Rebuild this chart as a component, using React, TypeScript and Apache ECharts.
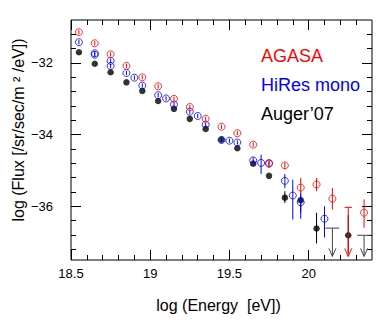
import React, { useEffect, useRef } from "react";
import * as echarts from "echarts";

// ---- data (log10 E [eV], log10 flux) ----
const agasaE = [18.55, 18.65, 18.75, 18.85, 18.95, 19.05, 19.15, 19.25, 19.35, 19.45, 19.55, 19.65, 19.75, 19.85, 19.95, 20.05, 20.15, 20.35];
const agasaY = [-31.14, -31.45, -31.76, -32.08, -32.40, -32.65, -33.00, -33.23, -33.56, -33.78, -33.96, -34.28, -34.79, -34.86, -35.48, -35.39, -35.79, -36.18];
const agasaHi = [-31.08, -31.39, -31.70, -32.02, -32.34, -32.59, -32.94, -33.17, -33.50, -33.72, -33.90, -34.22, -34.71, -34.78, -35.21, -35.21, -35.49, -35.81];
const agasaLo = [-31.20, -31.51, -31.82, -32.14, -32.46, -32.71, -33.06, -33.29, -33.62, -33.84, -34.02, -34.34, -34.93, -34.96, -35.68, -35.58, -36.09, -36.60];
const agasaLimE = [20.25];
const agasaLimY = [-36.03];

const hiresE = [18.55, 18.65, 18.65, 18.75, 18.75, 18.85, 18.90, 18.95, 19.05, 19.10, 19.15, 19.25, 19.30, 19.35, 19.45, 19.50, 19.55, 19.65, 19.70, 19.75, 19.85, 19.90, 19.95, 20.10];
const hiresY = [-31.42, -31.73, -31.77, -31.94, -32.08, -32.28, -32.41, -32.63, -32.90, -32.99, -33.16, -33.36, -33.48, -33.72, -34.15, -34.17, -34.22, -34.72, -34.79, -34.81, -35.29, -35.70, -35.89, -36.35];
const hiresHi = [-31.36, -31.67, -31.71, -31.88, -32.02, -32.22, -32.35, -32.57, -32.84, -32.93, -33.10, -33.30, -33.42, -33.66, -34.09, -34.11, -34.16, -34.63, -34.56, -34.75, -35.10, -35.26, -35.62, -36.00];
const hiresLo = [-31.48, -31.79, -31.83, -32.00, -32.14, -32.34, -32.47, -32.69, -32.96, -33.05, -33.22, -33.42, -33.54, -33.78, -34.21, -34.23, -34.28, -34.81, -35.10, -34.87, -35.49, -36.37, -36.35, -36.87];

const augerE = [18.55, 18.65, 18.75, 18.85, 18.95, 19.05, 19.15, 19.25, 19.35, 19.45, 19.55, 19.65, 19.75, 19.85, 19.95, 20.05, 20.25];
const augerY = [-31.70, -32.02, -32.26, -32.54, -32.78, -33.06, -33.28, -33.56, -33.84, -34.14, -34.38, -34.81, -35.15, -35.76, -35.83, -36.62, -36.81];
const augerErrE = [19.85, 19.95, 20.05, 20.25];
const augerErrHi = [-35.58, -35.67, -36.18, -36.25];
const augerErrLo = [-35.91, -36.18, -37.04, -37.30];
const augerLimE = [20.15, 20.35];
const augerLimY = [-36.61, -36.81];

const xMajor = [18.5, 19, 19.5, 20];
const xMinor = [18.6, 18.7, 18.8, 18.9, 19.1, 19.2, 19.3, 19.4, 19.6, 19.7, 19.8, 19.9, 20.1, 20.2, 20.3];
const yMajor = [-36, -34, -32];
const yMinor = [-37.2, -36.8, -36.4, -35.6, -35.2, -34.8, -34.4, -33.6, -33.2, -32.8, -32.4, -31.6, -31.2];

const legendNames = ["AGASA", "HiRes mono", "Auger\u201907"];
const xTitle = "log (Energy  [eV])";
const yTitle = "log (Flux [/sr/sec/m \u00b2 /eV])";
const RED = "#ff0000";
const BLUE = "#0000ff";
const BLACK = "#000000";
const LIMIT_GREY = "#444444";
const ARROW_TIP = -37.4;
const FONT = "'Liberation Sans', Arial, Helvetica, sans-serif";

function errSeries(E: number[], hi: number[], lo: number[], color: string, z: number) {
  return {
    type: "custom",
    silent: true,
    z,
    data: E.map((e, i) => [e, hi[i], lo[i]]),
    renderItem: (_p: any, api: any) => {
      const a = api.coord([api.value(0), api.value(1)]);
      const b = api.coord([api.value(0), api.value(2)]);
      return {
        type: "line",
        shape: { x1: a[0], y1: a[1], x2: b[0], y2: b[1] },
        style: { stroke: color, lineWidth: 1 },
      };
    },
  };
}

function limitSeries(E: number[], Y: number[], color: string, halfW: number, z: number) {
  return {
    type: "custom",
    silent: true,
    z,
    data: E.map((e, i) => [e, Y[i]]),
    renderItem: (_p: any, api: any) => {
      const a = api.coord([api.value(0), api.value(1)]);
      const t = api.coord([api.value(0), ARROW_TIP]);
      const st = { stroke: color, lineWidth: 1, fill: "none" };
      return {
        type: "group",
        children: [
          { type: "line", shape: { x1: a[0] - halfW, y1: a[1], x2: a[0] + halfW, y2: a[1] }, style: st },
          { type: "line", shape: { x1: a[0], y1: a[1], x2: t[0], y2: t[1] }, style: st },
          { type: "polyline", shape: { points: [[t[0] - 3.5, t[1] - 8], [t[0], t[1]], [t[0] + 3.5, t[1] - 8]] }, style: st },
        ],
      };
    },
  };
}

function scatter(E: number[], Y: number[], color: string, filled: boolean, z: number) {
  return {
    type: "scatter",
    z,
    symbol: "circle",
    symbolSize: filled ? 6.5 : 7,
    data: E.map((e, i) => [e, Y[i]]),
    itemStyle: filled
      ? { color, borderWidth: 0 }
      : { color: "rgba(0,0,0,0)", borderColor: color, borderWidth: 1 },
  };
}

export default function App() {
  const ref = useRef<HTMLDivElement>(null);
  useEffect(() => {
    if (!ref.current) return;
    const chart = echarts.init(ref.current, undefined, { renderer: "svg" });
    const baseX = { type: "value", min: 18.5, max: 20.4, axisLine: { show: false }, splitLine: { show: false } };
    const baseY = { type: "value", min: -37.5, max: -30.8, axisLine: { show: false }, splitLine: { show: false } };
    const tick = (vals: number[], len: number) => ({
      show: true, inside: true, length: len, customValues: vals, lineStyle: { color: "#000", width: 1 },
    });
    const noLabel = { show: false };
    chart.setOption({
      animation: false,
      grid: { left: 71, right: 10, top: 20, bottom: 65, show: true, borderColor: "#000", borderWidth: 1, backgroundColor: "rgba(0,0,0,0)" },
      xAxis: [
        {
          ...baseX, position: "bottom", axisTick: tick(xMajor, 10),
          axisLabel: { customValues: xMajor, margin: 7, fontSize: 13, color: "#000", fontFamily: FONT, formatter: (v: number) => String(v) },
        },
        { ...baseX, position: "bottom", axisTick: tick(xMinor, 5), axisLabel: noLabel },
        { ...baseX, position: "top", axisTick: tick(xMajor, 10), axisLabel: noLabel },
        { ...baseX, position: "top", axisTick: tick(xMinor, 5), axisLabel: noLabel },
      ],
      yAxis: [
        {
          ...baseY, position: "left", axisTick: tick(yMajor, 10),
          axisLabel: { customValues: yMajor, margin: 18, fontSize: 13, color: "#000", fontFamily: FONT, formatter: (v: number) => "\u2212" + Math.abs(v) },
        },
        { ...baseY, position: "left", axisTick: tick(yMinor, 5), axisLabel: noLabel },
        { ...baseY, position: "right", axisTick: tick(yMajor, 10), axisLabel: noLabel },
        { ...baseY, position: "right", axisTick: tick(yMinor, 5), axisLabel: noLabel },
      ],
      series: [
        errSeries(augerErrE, augerErrHi, augerErrLo, BLACK, 2),
        limitSeries(augerLimE, augerLimY, LIMIT_GREY, 7, 2),
        scatter(augerE, augerY, BLACK, true, 3),
        errSeries(hiresE, hiresHi, hiresLo, BLUE, 4),
        scatter(hiresE, hiresY, BLUE, false, 5),
        errSeries(agasaE, agasaHi, agasaLo, RED, 6),
        limitSeries(agasaLimE, agasaLimY, RED, 3.7, 6),
        scatter(agasaE, agasaY, RED, false, 7),
      ],
      graphic: [
        { type: "text", x: 261, y: 56, style: { text: legendNames[0], fill: RED, fontSize: 18, fontFamily: FONT, verticalAlign: "middle" } },
        { type: "text", x: 261, y: 85, style: { text: legendNames[1], fill: BLUE, fontSize: 18, fontFamily: FONT, verticalAlign: "middle" } },
        { type: "text", x: 261, y: 114, style: { text: legendNames[2], fill: BLACK, fontSize: 18, fontFamily: FONT, verticalAlign: "middle" } },
        {
          type: "text", x: 218.5, y: 305,
          style: { text: xTitle, fill: "#000", fontSize: 16, fontFamily: FONT, align: "center", verticalAlign: "middle" },
        },
        {
          type: "text", x: 18, y: 130, rotation: Math.PI / 2,
          style: { text: yTitle, fill: "#000", fontSize: 16, fontFamily: FONT, align: "center", verticalAlign: "middle" },
        },
      ],
    });
    return () => chart.dispose();
  }, []);
  return <div ref={ref} style={{ position: "absolute", left: 0, top: 0, width: 382, height: 325 }} />;
}
